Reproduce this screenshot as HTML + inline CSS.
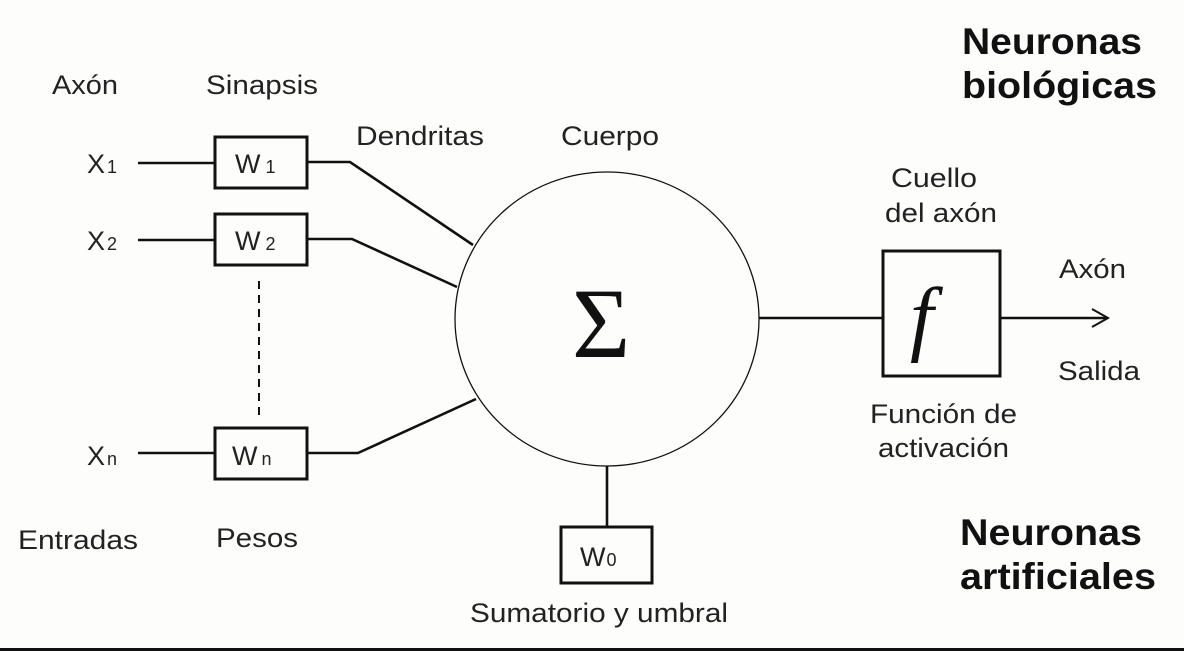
<!DOCTYPE html>
<html><head><meta charset="utf-8"><style>
html,body{margin:0;padding:0;background:#fdfefc;}
svg{display:block}
</style></head><body>
<svg width="1184" height="651" viewBox="0 0 1184 651" xmlns="http://www.w3.org/2000/svg" font-family="Liberation Sans, Arial, sans-serif" fill="#111">
<rect width="1184" height="651" fill="#fdfefc"/>
<g stroke="#111" fill="none">
<ellipse cx="607" cy="319" rx="152" ry="147" stroke-width="1.3"/>
<rect x="215" y="137" width="92" height="51" stroke-width="3"/>
<rect x="215" y="214" width="92" height="51" stroke-width="3"/>
<rect x="215" y="428" width="92" height="51" stroke-width="3"/>
<rect x="561" y="527" width="91" height="56" stroke-width="3"/>
<rect x="883" y="251" width="117" height="125" stroke-width="3"/>
<g stroke-width="2.6">
<line x1="138" y1="163" x2="215" y2="163"/>
<line x1="138" y1="240" x2="215" y2="240"/>
<line x1="138" y1="453" x2="215" y2="453"/>
<polyline points="307,162 350,162 473,245"/>
<polyline points="307,239 352,239 457,287"/>
<polyline points="307,453 358,453 476,399"/>
<line x1="759" y1="318" x2="883" y2="318"/>
<line x1="1000" y1="318" x2="1108" y2="318"/>
<line x1="607" y1="466" x2="607" y2="527"/>
</g>
<polyline points="1092,309 1108,318 1092,327" stroke-width="2"/>
<line x1="259" y1="281" x2="259" y2="416" stroke-width="2" stroke-dasharray="8,6"/>
<line x1="0" y1="649.5" x2="1184" y2="649.5" stroke-width="3"/>
</g>
<g font-size="27" fill="#222">
<text x="52" y="94" textLength="66" lengthAdjust="spacingAndGlyphs">Axón</text>
<text x="206" y="94" textLength="112" lengthAdjust="spacingAndGlyphs">Sinapsis</text>
<text x="356" y="145" textLength="128" lengthAdjust="spacingAndGlyphs">Dendritas</text>
<text x="561" y="145" textLength="98" lengthAdjust="spacingAndGlyphs">Cuerpo</text>
<text x="891" y="187" textLength="86" lengthAdjust="spacingAndGlyphs">Cuello</text>
<text x="885" y="222" textLength="112" lengthAdjust="spacingAndGlyphs">del axón</text>
<text x="1059" y="278" textLength="67" lengthAdjust="spacingAndGlyphs">Axón</text>
<text x="1058" y="380" textLength="82" lengthAdjust="spacingAndGlyphs">Salida</text>
<text x="870" y="423" textLength="147" lengthAdjust="spacingAndGlyphs">Función de</text>
<text x="878" y="457" textLength="131" lengthAdjust="spacingAndGlyphs">activación</text>
<text x="18" y="549" textLength="120" lengthAdjust="spacingAndGlyphs">Entradas</text>
<text x="216" y="547" textLength="82" lengthAdjust="spacingAndGlyphs">Pesos</text>
<text x="470" y="622" textLength="258" lengthAdjust="spacingAndGlyphs">Sumatorio y umbral</text>
<text x="87" y="173">X<tspan font-size="18" dx="2">1</tspan></text>
<text x="87" y="250">X<tspan font-size="18" dx="2">2</tspan></text>
<text x="87" y="465">X<tspan font-size="18" dx="2">n</tspan></text>
<text x="235" y="173">W<tspan font-size="18" dx="5">1</tspan></text>
<text x="235" y="250">W<tspan font-size="18" dx="5">2</tspan></text>
<text x="232" y="465">W<tspan font-size="18" dx="4">n</tspan></text>
<text x="580" y="566">W<tspan font-size="18" dx="1">0</tspan></text>
</g>
<text x="572" y="357" font-size="100" style="font-family:'Liberation Serif',serif">Σ</text>
<text x="910" y="345" font-size="84" font-style="italic" style="font-family:'Liberation Serif',serif">f</text>
<g font-size="37" font-weight="bold">
<text x="962" y="54" textLength="180" lengthAdjust="spacingAndGlyphs">Neuronas</text>
<text x="962" y="98" textLength="195" lengthAdjust="spacingAndGlyphs">biológicas</text>
<text x="960" y="545" textLength="182" lengthAdjust="spacingAndGlyphs">Neuronas</text>
<text x="960" y="589" textLength="196" lengthAdjust="spacingAndGlyphs">artificiales</text>
</g>
</svg>
</body></html>
